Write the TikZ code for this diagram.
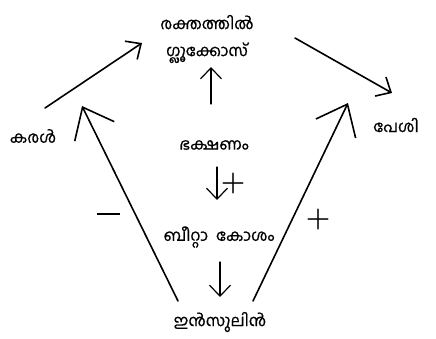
\documentclass[tikz,border=0pt]{standalone}
\usepackage{fontspec}
\newfontfamily\mlfont[Script=Malayalam,FakeBold=0.6]{Hind Kochi}
\usetikzlibrary{arrows.meta}
\begin{document}
\begin{tikzpicture}[x=1pt,y=-1pt,
  lbl/.style={font=\mlfont\fontsize{16}{27}\selectfont, inner sep=0pt, align=center},
  sign/.style={font=\bfseries\fontsize{28}{28}\selectfont, inner sep=0pt},
  conn/.style={line width=1.6pt, line cap=round, line join=round},
  vconn/.style={line width=1.2pt, line cap=round, line join=round},
  bigtip/.style={-{Straight Barb[length=27pt,width=44pt]}},
  midtip/.style={-{Straight Barb[length=12pt,width=22pt]}},
  smalltip/.style={-{Straight Barb[length=11pt,width=21pt]}}
]
\useasboundingbox (0,0) rectangle (436,338);

% labels
\node[lbl] (blood) at (207,39) {രക്തത്തിൽ\\ഗ്ലൂക്കോസ്};
\node[lbl] (liver) at (33,136) {കരൾ};
\node[lbl] (muscle) at (396,125) {പേശി};
\node[lbl] (food) at (214,145) {ഭക്ഷണം};
\node[lbl] (beta) at (219,237) {ബീറ്റാ\hspace{0.5em}കോശം};
\node[lbl] (insulin) at (220,322) {ഇൻസുലിൻ};

% connector end points
\coordinate (la) at (45,108);
\coordinate (lb) at (142,43);
\coordinate (ra) at (295,38);
\coordinate (rb) at (392,93);
\coordinate (ua) at (211,104);
\coordinate (ub) at (211,67);
\coordinate (da) at (217,167);
\coordinate (db) at (217,200);
\coordinate (ea) at (220,262);
\coordinate (eb) at (220,297);
\coordinate (pa) at (178,301);
\coordinate (pb) at (82,106);
\coordinate (qa) at (253,301);
\coordinate (qb) at (348,103);

% connectors
\draw[conn,midtip] (la) -- (lb);
\draw[conn,midtip] (ra) -- (rb);
\draw[vconn,smalltip] (ua) -- (ub);
\draw[vconn,smalltip] (da) -- (db);
\draw[vconn,smalltip] (ea) -- (eb);
\draw[conn,bigtip] (pa) -- (pb);
\draw[conn,bigtip] (qa) -- (qb);

% signs
\node[inner sep=0pt] (minus) at (108.5,214) {\rule{23pt}{2pt}};
\node[sign] (plusa) at (233,184) {+};
\node[sign] (plusb) at (318,220) {+};
\end{tikzpicture}
\end{document}
